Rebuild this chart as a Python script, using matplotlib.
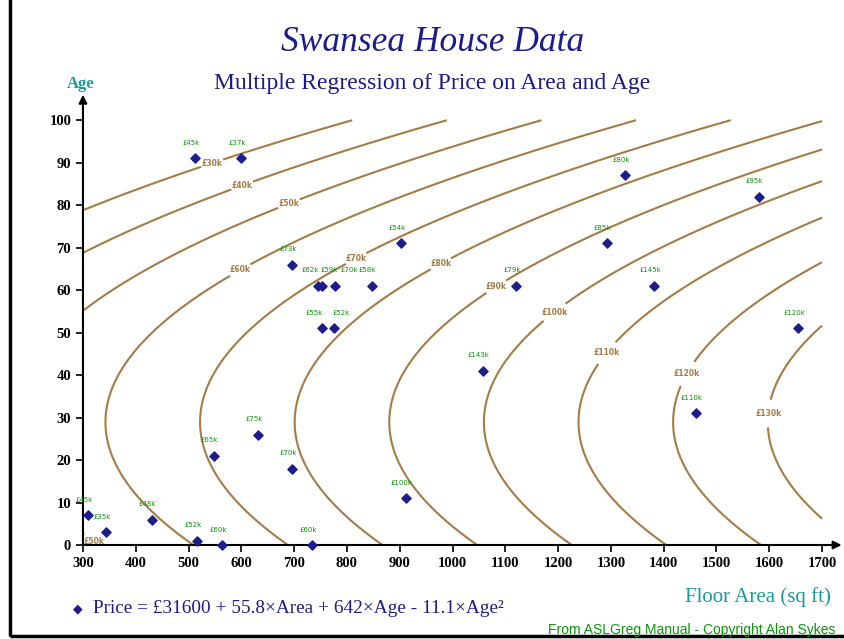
# Swansea house data - multiple regression of price on area and age
import matplotlib.pyplot as plt
import numpy as np
from matplotlib.patches import Rectangle

# Data
area = [513, 600, 696, 745, 752, 777, 847, 752, 775, 903, 1121, 1292, 1057, 1382,
        1327, 1580, 1655, 1461, 310, 344, 430, 548, 632, 696, 516, 564, 734, 912]
age = [91, 91, 66, 61, 61, 61, 61, 51, 51, 71, 61, 71, 41, 61,
       87, 82, 51, 31, 7, 3, 6, 21, 26, 18, 1, 0, 0, 11]
price_labels = ['£45k', '£37k', '£73k', '£62k', '£59k', '£70k', '£58k', '£55k', '£52k', '£54k',
                '£79k', '£85k', '£143k', '£145k', '£80k', '£95k', '£120k', '£110k', '£45k',
                '£35k', '£48k', '£65k', '£75k', '£70k', '£52k', '£60k', '£60k', '£100k']

# fitted model coefficients
b0, b_area, b_age, b_age2 = 31600, 55.8, 642, -11.1
levels = [30000, 40000, 50000, 60000, 70000, 80000, 90000, 100000, 110000, 120000, 130000]

xticks = list(range(300, 1701, 100))
yticks = list(range(0, 101, 10))

navy = '#1c1c8c'
brown = '#a57c45'
green = '#0a960a'
teal = '#1a9a9a'
serif = ['Liberation Serif', 'DejaVu Serif']

fig = plt.figure(figsize=(8.44, 6.39), dpi=100)
ax = fig.add_axes([0.0983, 0.1471, 0.8945, 0.698])
ax.set_xlim(300, 1730)
ax.set_ylim(0, 105)

# contours of the fitted surface
A, G = np.meshgrid(np.linspace(300, 1700, 400), np.linspace(0, 100, 300))
P = b0 + b_area * A + b_age * G + b_age2 * G ** 2
cs = ax.contour(A, G, P, levels=levels, colors=brown, linewidths=1.5)
spots = [(546, 89.4), (603, 84.2), (692, 79.8), (599, 64.5), (815, 68), (979, 65.9),
         (1084, 60.6), (1192, 55), (1292, 45.2), (1443, 40.4), (1595, 31), (320, 0.8)]
clabs = ax.clabel(cs, inline=True, fontsize=5.5, fmt=lambda v: '£%dk' % (v / 1000),
                  manual=spots, inline_spacing=2)
for t in clabs:
    t.set_rotation(0)
    t.set_weight('bold')

# points and their price labels (crowded ones nudged apart)
ax.scatter(area, age, marker='D', s=22, color=navy, zorder=5, clip_on=False)
nudge = {3: ('right', 1), 4: ('left', -1), 5: ('left', 4), 7: ('right', 1), 8: ('left', -1)}
for i, (x, y, t) in enumerate(zip(area, age, price_labels)):
    ha, dx = nudge.get(i, ('center', -3))
    ax.annotate(t, (x, y), xytext=(dx, 9), textcoords='offset points', ha=ha,
                va='bottom', fontsize=5, color=green, zorder=6)

# axes with arrows
for s in ax.spines.values():
    s.set_visible(False)
ax.annotate('', xy=(1737, 0), xytext=(300, 0), annotation_clip=False,
            arrowprops=dict(arrowstyle='-|>', color='black', lw=1.5, mutation_scale=12,
                            shrinkA=0, shrinkB=0))
ax.annotate('', xy=(300, 106), xytext=(300, 0), annotation_clip=False,
            arrowprops=dict(arrowstyle='-|>', color='black', lw=1.5, mutation_scale=12,
                            shrinkA=0, shrinkB=0))
ax.set_xticks(xticks)
ax.set_yticks(yticks)
ax.tick_params(direction='out', length=5, width=1.2, labelsize=10.5)
for lab in ax.get_xticklabels() + ax.get_yticklabels():
    lab.set_family(serif)
    lab.set_weight('bold')

fig.text(0.513, 0.934, 'Swansea House Data', ha='center', va='center', fontsize=25.5,
         style='italic', color=navy, family=serif)
fig.text(0.512, 0.870, 'Multiple Regression of Price on Area and Age', ha='center',
         va='center', fontsize=17, color=navy, family=serif)
fig.text(0.096, 0.868, 'Age', ha='center', va='center', fontsize=12, color=teal,
         family=serif, weight='bold')
fig.text(0.985, 0.066, 'Floor Area (sq ft)', ha='right', va='center', fontsize=15,
         color=teal, family=serif)
fig.text(0.086, 0.047, '◆', ha='left', va='center', fontsize=9, color=navy)
fig.text(0.110, 0.047, 'Price = £31600 + 55.8×Area + 642×Age - 11.1×Age²', ha='left',
         va='center', fontsize=13.9, color=navy, family=serif)
fig.text(0.649, 0.014, 'From ASLGreg Manual - Copyright Alan Sykes', ha='left',
         va='center', fontsize=10, color=green,
         family=['Liberation Sans Narrow', 'Liberation Sans'])

# frame round the figure
fig.patches.append(Rectangle((0.012, 0.004), 0.99, 1.2, transform=fig.transFigure,
                             fill=False, edgecolor='black', lw=2.5))

fig.savefig('out.png', dpi=100)
